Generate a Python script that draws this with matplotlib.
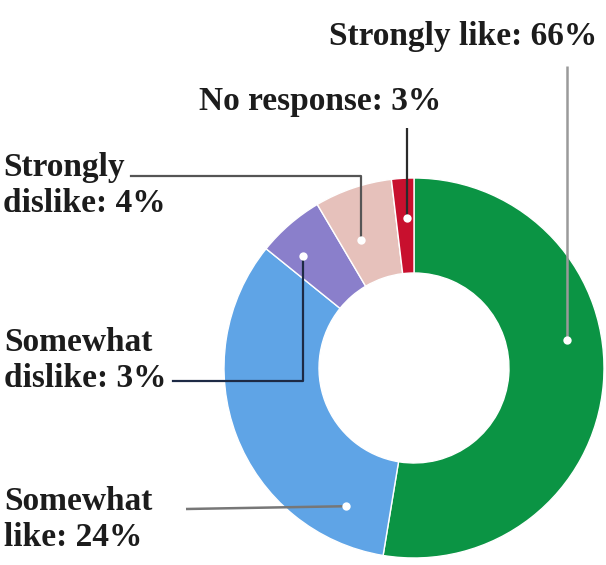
import numpy as np
import matplotlib
matplotlib.use("Agg")
import matplotlib.pyplot as plt

# wedge shares as drawn in the picture (clockwise from 12 o'clock)
categories = ["Strongly like", "Somewhat like", "Somewhat dislike",
              "Strongly dislike", "No response"]
shares = [52.6, 33.2, 5.7, 6.6, 1.9]
labels = ["Strongly like: 66%", "Somewhat\nlike: 24%", "Somewhat\ndislike: 3%",
          "Strongly\ndislike: 4%", "No response: 3%"]
colors = ["#0b9444", "#5fa4e6", "#8a7fcb", "#e6c1bb", "#c8102e"]

# layout (pixel space, y measured from the top of the image)
W, H = 606, 565
cx, cy, R = 414, 368, 190
hole = 0.5
anchor_frac = [0.42, 0.14, 0.30, 0.35, 0.60]   # position of the dot inside each wedge
anchor_rad = [0.82, 0.81, 0.83, 0.73, 0.79]


def Y(y):
    return H - y


fig = plt.figure(figsize=(W / 100, H / 100), dpi=100)
ax = fig.add_axes([0, 0, 1, 1])

ax.pie(shares, colors=colors, startangle=90, counterclock=False,
       center=(cx, Y(cy)), radius=R,
       wedgeprops=dict(width=R * (1 - hole), edgecolor="white", linewidth=1))

ax.set_xlim(0, W)
ax.set_ylim(0, H)
ax.set_aspect("equal")
ax.axis("off")

# dots
cum = np.concatenate([[0], np.cumsum(shares)]) / sum(shares)
dots = []
for i in range(len(shares)):
    ang = (cum[i] + anchor_frac[i] * (cum[i + 1] - cum[i])) * 360
    th = np.deg2rad(90 - ang)
    x = cx + anchor_rad[i] * R * np.cos(th)
    y = Y(cy) + anchor_rad[i] * R * np.sin(th)
    dots.append((x, y))

font = dict(family="Liberation Serif", weight="bold", size=24, color="#1c1c1c")

# labels and leader lines (two-line labels are anchored on their last baseline)
# Strongly like
x, y = dots[0]
ax.plot([x, x], [Y(66), y], color="#9a9a9a", lw=1.8, solid_capstyle="butt")
ax.text(597, Y(45), labels[0], ha="right", va="baseline", **font)

# No response
x, y = dots[4]
ax.plot([x, x], [Y(128), y], color="#2b2b2b", lw=1.6, solid_capstyle="butt")
ax.text(199, Y(110), labels[4], ha="left", va="baseline", **font)

# Strongly dislike
x, y = dots[3]
ax.plot([131, x, x], [Y(176), Y(176), y], color="#555555", lw=1.6)
ax.text(3, Y(212), labels[3], ha="left", va="baseline", linespacing=1.2, **font)

# Somewhat dislike
x, y = dots[2]
ax.plot([173, x, x], [Y(381), Y(381), y], color="#1d2a45", lw=1.6)
ax.text(4, Y(387), labels[2], ha="left", va="baseline", linespacing=1.2, **font)

# Somewhat like
x, y = dots[1]
ax.plot([186, x], [Y(509), y], color="#777777", lw=1.8, solid_capstyle="butt")
ax.text(4, Y(546), labels[1], ha="left", va="baseline", linespacing=1.2, **font)

for x, y in dots:
    ax.plot(x, y, "o", ms=6, mfc="white", mec="none")

fig.savefig("out.png", dpi=100)
